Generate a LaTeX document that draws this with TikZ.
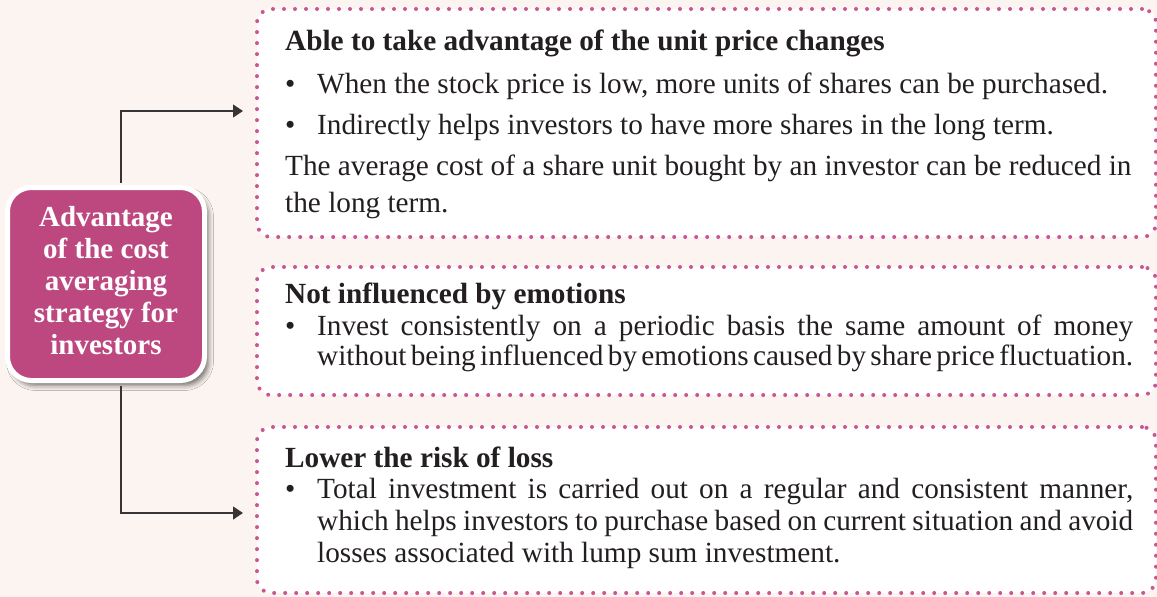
\documentclass[tikz,border=0pt]{standalone}
\usepackage{fontspec}
\setmainfont{Liberation Serif}
\usetikzlibrary{arrows.meta,shadows.blur}
\definecolor{bgc}{RGB}{251,244,240}
\definecolor{dotc}{RGB}{203,86,146}
\definecolor{magc}{RGB}{189,72,127}
\definecolor{txtc}{RGB}{35,31,32}
\definecolor{linec}{RGB}{55,52,53}
\newcommand\bodyfnt[1]{\fontsize{29.25}{#1}\selectfont}
\newcommand\resetsp{\spaceskip=0pt\xspaceskip=0pt\relax}
\newcommand\ttl[1]{{\bfseries #1}}
\newcommand\bul{\makebox[32pt][l]{\textbullet}}
\newcommand\jline[1]{{\spaceskip=.25em plus .3em minus .12em\relax\makebox[816pt][s]{#1}}}
\begin{document}
\begin{tikzpicture}[x=1pt,y=-1pt,
  dotbox/.style={draw=dotc, fill=white, line width=4pt, dash pattern=on 0pt off 11pt,
    line cap=round, rounded corners=14pt, inner sep=0pt, anchor=north west},
  txtblock/.style={anchor=base west, inner sep=0pt, text width=860pt, align=left, text=txtc},
  cbox/.style={fill=magc, draw=white, line width=5pt, rounded corners=24pt,
    minimum width=197pt, minimum height=193pt, inner sep=0pt, text=white, align=center,
    font=\fontsize{29}{32}\selectfont\bfseries, text depth=6.5pt,
    blur shadow={shadow xshift=4pt, shadow yshift=-5pt, shadow blur radius=5pt, shadow opacity=55}},
  conn/.style={draw=linec, line width=1.3pt, shorten <=2.5pt, shorten >=12pt,
    -{Triangle[length=10pt,width=13pt]}}]
\fill[bgc] (0,0) rectangle (1157,597);
\useasboundingbox (0,0) rectangle (1157,597);

\node[dotbox, minimum width=899pt, minimum height=228pt] (b1) at (255,7) {};
\node[dotbox, minimum width=899pt, minimum height=128pt] (b2) at (255,265) {};
\node[dotbox, minimum width=899pt, minimum height=166pt] (b3) at (255,425) {};

\node[txtblock, font=\bodyfnt{37}] (t1) at (285,50) {\resetsp
\ttl{Able to take advantage of the unit price changes}\\[6pt]
\bul When the stock price is low, more units of shares can be purchased.\\[4pt]
\bul Indirectly helps investors to have more shares in the long term.\\[4pt]
The average cost of a share unit bought by an investor can be reduced in\\
the long term.};

\node[txtblock, font=\bodyfnt{30}] (t2) at (285,303) {\resetsp
\ttl{Not influenced by emotions}\\[2pt]
\bul\jline{Invest consistently on a periodic basis the same amount of money}\\
\hspace*{32pt}\jline{without being influenced by emotions caused by share price fluctuation.}};

\node[txtblock, font=\bodyfnt{32}] (t3) at (285,467) {\resetsp
\ttl{Lower the risk of loss}\\[-1pt]
\bul\jline{Total investment is carried out on a regular and consistent manner,}\\
\hspace*{32pt}\jline{which helps investors to purchase based on current situation and avoid}\\
\hspace*{32pt}losses associated with lump sum investment.};

\node[cbox] (c) at (106,284) {Advantage\\of the cost\\averaging\\strategy for\\investors};

\draw[conn] ([xshift=15pt]c.north) |- ([yshift=12pt]b1.west);
\draw[conn] ([xshift=15pt]c.south) |- ([yshift=-3pt]b3.west);
\end{tikzpicture}
\end{document}
